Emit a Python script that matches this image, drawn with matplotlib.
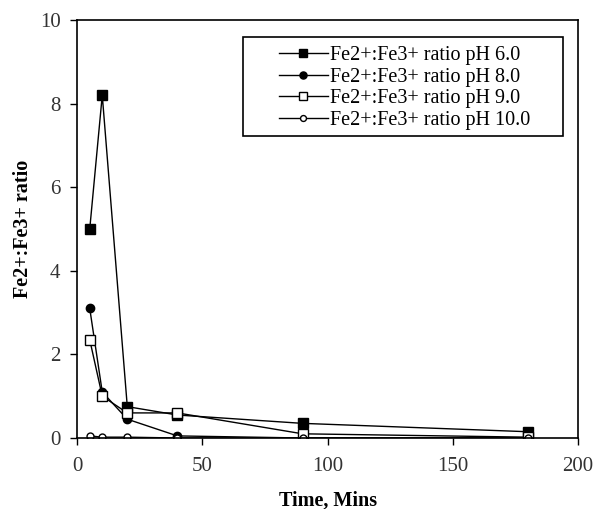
import numpy as np
import matplotlib.pyplot as plt
from matplotlib.patches import Rectangle

# data
time = [5, 10, 20, 40, 90, 180]
ph6 = [5.0, 8.2, 0.75, 0.55, 0.35, 0.15]
ph8 = [3.1, 1.1, 0.45, 0.05, 0.0, 0.0]
ph9 = [2.35, 1.0, 0.6, 0.6, 0.1, 0.02]
ph10 = [0.05, 0.02, 0.02, 0.0, 0.0, 0.0]
labels = ["Fe2+:Fe3+ ratio pH 6.0", "Fe2+:Fe3+ ratio pH 8.0",
          "Fe2+:Fe3+ ratio pH 9.0", "Fe2+:Fe3+ ratio pH 10.0"]

plt.rcParams['font.family'] = ['Liberation Serif', 'DejaVu Serif']

fig = plt.figure(figsize=(5.94, 5.09), dpi=100)
ax = fig.add_axes([0.13, 0.1395, 0.843, 0.8212])

lw = 1.0
ax.plot(time, ph6, color='black', lw=lw, marker='s', ms=7, mfc='black', label=labels[0])
ax.plot(time, ph8, color='black', lw=lw, marker='o', ms=6, mfc='black', label=labels[1])
ax.plot(time, ph9, color='black', lw=lw, marker='s', ms=7, mfc='white', label=labels[2])
ax.plot(time, ph10, color='black', lw=lw, marker='o', ms=5, mfc='white', label=labels[3])

ax.set_xlim(0, 200)
ax.set_ylim(0, 10)
ax.set_xticks([0, 50, 100, 150, 200])
ax.set_yticks([0, 2, 4, 6, 8, 10])
ax.tick_params(direction='out', length=5, width=1, labelsize=15, colors='black')
ax.tick_params(axis='x', pad=9)
ax.tick_params(axis='y', pad=7)
for t in ax.get_xticklabels() + ax.get_yticklabels():
    t.set_color('#333333')
for s in ax.spines.values():
    s.set_linewidth(1.2)

ax.set_xlabel('Time, Mins', fontsize=14.5, fontweight='bold', labelpad=10)
ax.set_ylabel('Fe2+:Fe3+ ratio', fontsize=14.5, fontweight='bold', labelpad=5)

leg = ax.legend(loc='upper right', bbox_to_anchor=(0.912, 0.947), fontsize=14.5,
                frameon=False, handlelength=2.4, handletextpad=0.1,
                labelspacing=0.12, borderpad=0.2, markerscale=0.85,
                borderaxespad=0)
# legend box is wider than its text in the original
ax.add_patch(Rectangle((0.331, 0.7225), 0.639, 0.237, transform=ax.transAxes,
                       fill=False, edgecolor='black', lw=1.2, zorder=5))

fig.savefig('out.png', dpi=100)
